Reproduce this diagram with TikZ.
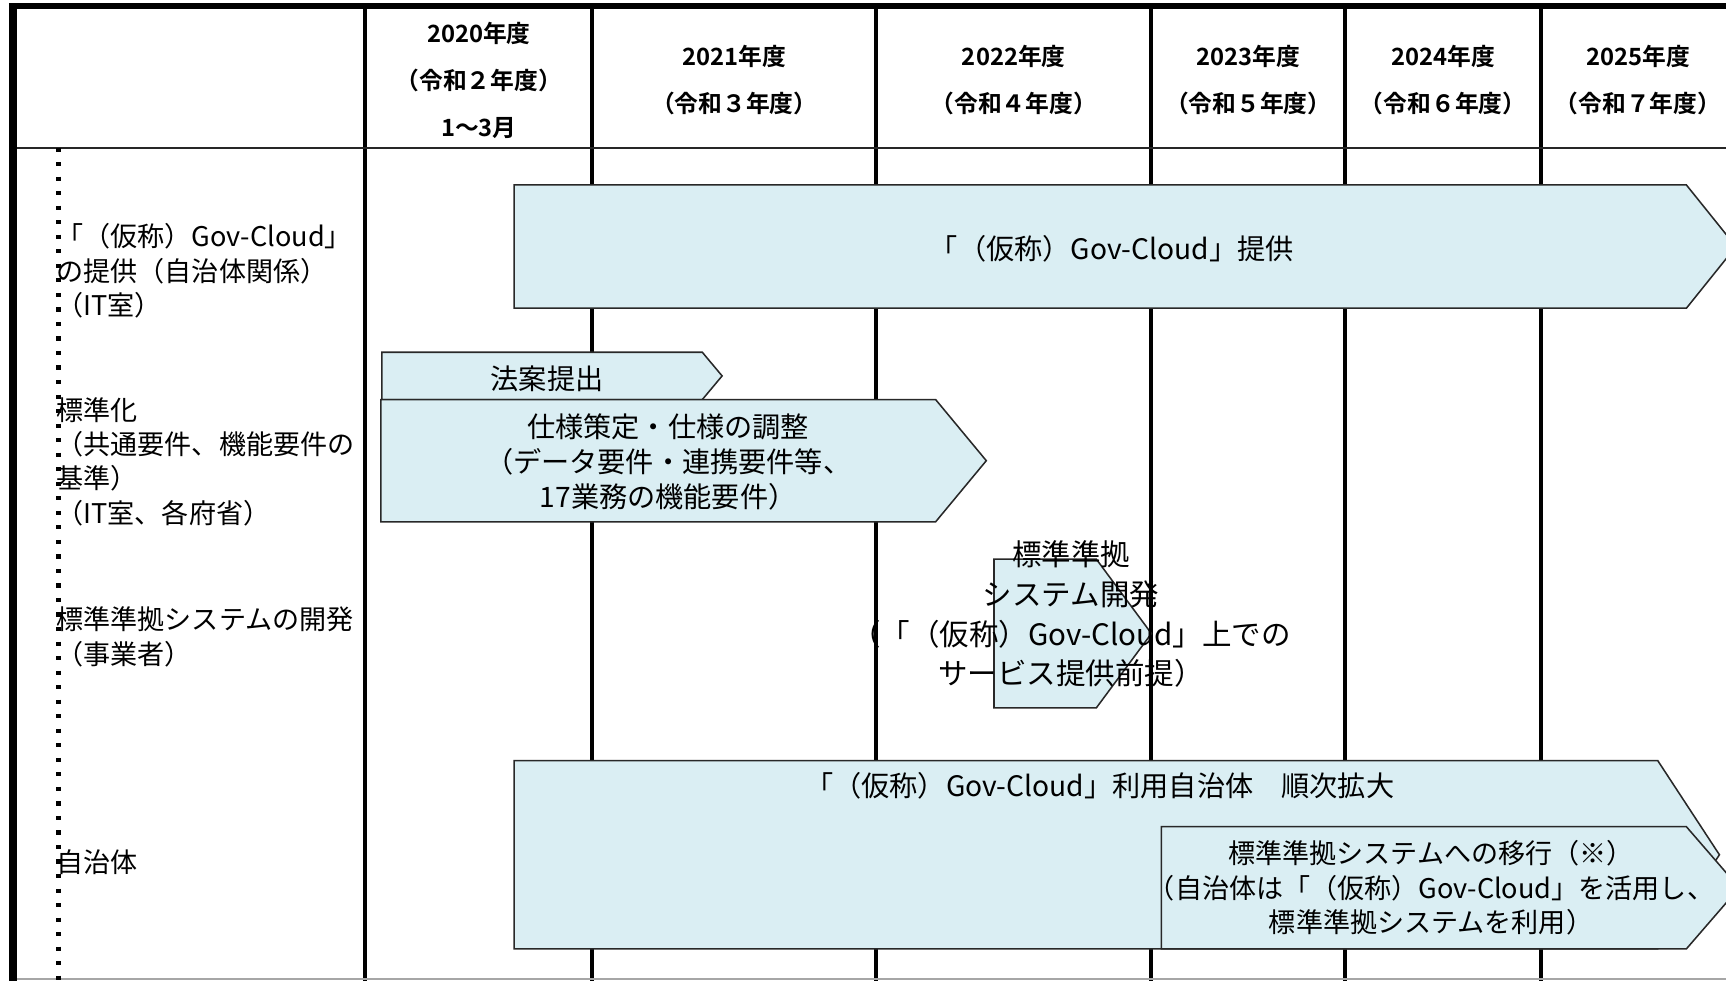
\documentclass[tikz,border=0pt]{standalone}
\usepackage{fontspec}
\setmainfont{Noto Sans CJK JP}[BoldFont={Noto Sans CJK JP Bold}]
\definecolor{boxfill}{RGB}{218,238,243}
\definecolor{boxline}{RGB}{40,40,40}
\newcommand\pentashape[6]{%
  \draw[shp] (#2,#3) -- (#5,#3) -- (#6,{(#3+#4)/2}) -- (#5,#4) -- (#2,#4) -- cycle;
  \coordinate (#1) at ({(#2+#5)/2},{(#3+#4)/2});}
\tikzset{
  shp/.style={fill=boxfill, draw=boxline, line width=0.7pt, line join=miter},
  colline/.style={line width=1.8pt, black},
  hdr/.style={font=\bfseries\fontsize{10.8}{21.5}\selectfont, align=center, inner sep=0pt},
  lbl/.style={font=\fontsize{12.3}{15.5}\selectfont, align=left, anchor=west, inner sep=0pt},
  btxt/.style={font=\fontsize{12.8}{15.75}\selectfont, align=center, inner sep=0pt},
  ftxt/.style={font=\fontsize{12.3}{15.75}\selectfont, align=center, inner sep=0pt},
  dtxt/.style={font=\fontsize{13.4}{18}\selectfont, align=center, inner sep=0pt},
}
\begin{document}
\begin{tikzpicture}[x=0.5pt,y=-0.5pt]
\useasboundingbox (0,0) rectangle (1568,891);
\fill[white] (0,0) rectangle (1568,891);
% column lines
\foreach \cx in {332,538,796,1046,1222,1400}
  \draw[colline] (\cx,4) -- (\cx,891);
% header bottom line
\draw[line width=0.75pt, black!85] (12,134.5) -- (1568,134.5);
% bottom line
\draw[line width=0.6pt, black!35] (12,889.5) -- (1568,889.5);
% outer border
\draw[line width=2.8pt, black] (8,5.8) -- (1568,5.8);
\draw[line width=3.5pt, black] (12,4) -- (12,891);
% dotted line
\draw[line width=1.9pt, black, dash pattern=on 1.9pt off 4.7pt] (53.2,134) -- (53.2,891);

% header texts
\node[hdr] (h2020) at (435,73) {2020年度\\（令和２年度）\\1～3月};
\node[hdr] (h2021) at (667,73) {2021年度\\（令和３年度）};
\node[hdr] (h2022) at (921,73) {2022年度\\（令和４年度）};
\node[hdr] (h2023) at (1134,73) {2023年度\\（令和５年度）};
\node[hdr] (h2024) at (1311,73) {2024年度\\（令和６年度）};
\node[hdr] (h2025) at (1488,73) {2025年度\\（令和７年度）};

% row labels
\node[lbl] (r1) at (51,246) {「（仮称）Gov-Cloud」\\の提供（自治体関係）\\（IT室）};
\node[lbl] (r2) at (51,419.5) {標準化\\（共通要件、機能要件の\\基準）\\（IT室、各府省）};
\node[lbl] (r3) at (51,578.5) {標準準拠システムの開発\\（事業者）};
\node[lbl] (r4) at (51,783) {自治体};

% shapes
\pentashape{sA}{467}{168}{280}{1532}{1577}
\pentashape{sB}{347}{320}{363}{638}{656}
\pentashape{sC}{346}{363}{474}{850}{896}
\pentashape{sD}{903}{508}{643}{996}{1046}
\pentashape{sE}{467}{691}{862}{1506}{1562}
\pentashape{sF}{1055}{751}{862}{1532}{1580}

% shape texts
\node[btxt] (tA) at (1010,226) {「（仮称）Gov-Cloud」提供};
\node[btxt] (tB) at (497,344) {法案提出};
\node[btxt] (tC) at (607,419.5) {仕様策定・仕様の調整\\（データ要件・連携要件等、\\17業務の機能要件）};
\node[dtxt] (tD) at (973,558) {標準準拠\\システム開発\\（「（仮称）Gov-Cloud」上での\\サービス提供前提）};
\node[btxt] (tE) at (999,714) {「（仮称）Gov-Cloud」利用自治体　順次拡大};
\node[ftxt] (tF) at (1300,806.5) {標準準拠システムへの移行（※）\\（自治体は「（仮称）Gov-Cloud」を活用し、\\標準準拠システムを利用）};
\end{tikzpicture}
\end{document}
